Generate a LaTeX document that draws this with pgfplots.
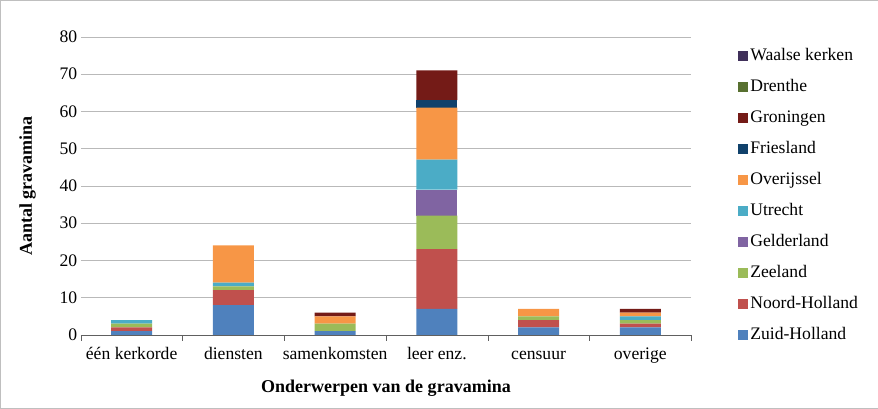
\documentclass[border=0pt]{standalone}
\usepackage{fontspec}
\setmainfont{Liberation Serif}
\usepackage{pgfplots}
\usepackage{pgfplotstable}
\pgfplotsset{compat=1.18}

\definecolor{zh}{HTML}{4F81BD}
\definecolor{nh}{HTML}{C0504D}
\definecolor{zee}{HTML}{9BBB59}
\definecolor{gel}{HTML}{8064A2}
\definecolor{utr}{HTML}{4BACC6}
\definecolor{ove}{HTML}{F79646}
\definecolor{fri}{HTML}{10416B}
\definecolor{gro}{HTML}{741B17}
\definecolor{dre}{HTML}{587030}
\definecolor{waa}{HTML}{40305A}

% categories at 0..5
\pgfplotstableread{
cat ZH NH Zee Gel Utr Ove Fri Gro Dre Waa
0   1  1  1   0   1   0   0   0   0   0
1   8  4  1   0   1   10  0   0   0   0
2   1  0  2   0   0   2   0   1   0   0
3   7  16 9   7   8   14  2   8   0   0
4   2  2  1   0   0   2   0   0   0   0
5   2  1  1   0   1   1   0   1   0   0
}\gravamina

\begin{document}
\begin{tikzpicture}
\begin{axis}[
  at={(0,0)}, anchor=south west,
  scale only axis,
  width=610pt, height=298pt,
  ybar stacked,
  bar width=41pt,
  xmin=-0.5, xmax=5.5,
  ymin=0, ymax=80,
  ytick={0,10,...,80},
  xtick={0,...,5},
  xticklabels={één kerkorde, diensten, samenkomsten, leer enz., censuur, overige},
  xtick style={draw=none},
  ytick style={draw=none},
  extra x ticks={-0.5,0.5,...,5.5},
  extra x tick labels={},
  extra x tick style={major tick length=6pt, tick align=outside,
    xtick style={draw=gray!75!black, thin}},
  axis x line*=bottom,
  axis y line*=left,
  x axis line style={gray!75!black, thin, -},
  y axis line style={draw=none, -},
  ymajorgrids,
  grid style={gray!55, thin},
  font=\fontsize{17.6}{20}\selectfont,
  /pgf/number format/assume math mode=true,
  tick label style={font=\fontsize{17.6}{20}\selectfont},
  xticklabel style={anchor=north, text height=12pt, text depth=4pt, yshift=-9pt},
  xlabel={Onderwerpen  van de gravamina},
  ylabel={Aantal gravamina},
  every axis x label/.style={at={(axis description cs:0.5,0)}, anchor=center, yshift=-53pt, font=\fontsize{18}{20}\selectfont\bfseries},
  every axis y label/.style={at={(axis description cs:-0.087,0.5)}, rotate=90, anchor=center, font=\fontsize{18}{20}\selectfont\bfseries},
  reverse legend,
  legend cell align=left,
  legend style={at={(1.072,0.978)}, anchor=north west, draw=none, fill=none,
    font=\fontsize{17.6}{20}\selectfont, row sep=10pt,
    nodes={text height=13pt, text depth=4pt, inner sep=2pt}},
  legend image code/.code={\fill[#1] (0pt,-5pt) rectangle (10pt,5pt);},
  every axis plot/.append style={draw=none},
]
\addplot[fill=zh] table[x=cat, y=ZH] {\gravamina};
\addplot[fill=nh] table[x=cat, y=NH] {\gravamina};
\addplot[fill=zee] table[x=cat, y=Zee] {\gravamina};
\addplot[fill=gel] table[x=cat, y=Gel] {\gravamina};
\addplot[fill=utr] table[x=cat, y=Utr] {\gravamina};
\addplot[fill=ove] table[x=cat, y=Ove] {\gravamina};
\addplot[fill=fri] table[x=cat, y=Fri] {\gravamina};
\addplot[fill=gro] table[x=cat, y=Gro] {\gravamina};
\addplot[fill=dre] table[x=cat, y=Dre] {\gravamina};
\addplot[fill=waa] table[x=cat, y=Waa] {\gravamina};
\legend{Zuid-Holland, Noord-Holland, Zeeland, Gelderland, Utrecht, Overijssel, Friesland, Groningen, Drenthe, Waalse kerken}
\end{axis}
\draw[gray!50] (-80.5pt,-73.5pt) rectangle (796.5pt,334.5pt);
\end{tikzpicture}
\end{document}
